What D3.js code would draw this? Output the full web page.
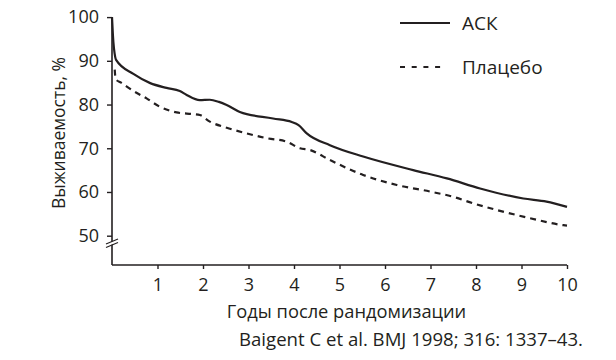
<!DOCTYPE html>
<html><head><meta charset="utf-8">
<script src="https://cdn.jsdelivr.net/npm/d3@7"></script>
<style>body{margin:0;background:#fff}svg{display:block}text{font-family:"Open Sans",sans-serif;fill:#231f20}</style>
</head><body>
<svg id="c" width="616" height="360"></svg>
<script>
const seriesNames = ["АСК", "Плацебо"];
const xTicks = [1,2,3,4,5,6,7,8,9,10];
const yTicks = [50,60,70,80,90,100];
const askYears = [0,0.02,0.07,0.09,0.47,0.84,1.2,1.49,1.64,1.93,2.15,2.35,2.52,2.81,3.54,3.95,4.1,4.28,4.79,5.52,6.62,7.36,8.09,9.04,9.55,10];
const askValues = [100,95.9,90.9,90.2,87.0,84.9,83.8,83.1,82.2,81.0,81.1,80.6,79.9,78.3,76.8,76.0,75.3,73.4,70.7,68.1,65.0,63.1,60.8,58.5,57.8,56.6];
const placeboYears = [0.06,0.08,0.2,0.47,0.76,1.05,1.42,1.79,1.93,2.15,2.52,2.96,3.4,3.84,4.13,4.35,4.79,5.52,6.26,6.99,7.5,7.94,8.45,9.19,9.92,10];
const placeboValues = [88,85.8,85.0,83.1,81.4,79.5,78.2,77.8,77.6,76.1,74.7,73.4,72.3,71.5,70.0,69.6,67.3,63.9,61.6,60.1,58.9,57.4,55.9,54.0,52.4,52.3];
const xLabel = "Годы после рандомизации";
const yLabel = "Выживаемость, %";
const source = "Baigent C et al. BMJ 1998; 316: 1337–43.";

const svg = d3.select("#c");
const x = d3.scaleLinear().domain([0,10]).range([112,567]);
const y = d3.scaleLinear().domain([50,100]).range([235.7,17.1]);
const axisY0 = 265;
const ink = "#231f20";

// x axis
const gx = svg.append("g").attr("transform",`translate(0,${axisY0})`)
  .call(d3.axisBottom(x).tickValues(xTicks).tickSize(4).tickSizeOuter(0).tickPadding(9).tickFormat(d3.format("d")));
gx.select(".domain").attr("stroke",ink).attr("stroke-width",1.6).attr("d",`M${x(0)},0H${x(10)}`);
gx.selectAll(".tick line").attr("stroke",ink).attr("stroke-width",1.4);
gx.selectAll(".tick text").attr("font-size",18).attr("fill",ink).attr("font-family","Open Sans");

// y axis
const gy = svg.append("g").attr("transform",`translate(${x(0)},0)`)
  .call(d3.axisLeft(y).tickValues(yTicks).tickSize(5).tickSizeOuter(0).tickPadding(8).tickFormat(d3.format("d")));
gy.select(".domain").attr("stroke",ink).attr("stroke-width",1.6).attr("d",`M0,${y(100)}V${axisY0}`);
gy.selectAll(".tick line").attr("stroke",ink).attr("stroke-width",1.4);
gy.selectAll(".tick text").attr("font-size",18).attr("fill",ink).attr("font-family","Open Sans");

// axis break
const bx = x(0), by = 243;
svg.append("path").attr("d",`M${bx-6},${by+1}L${bx+6},${by-4}L${bx+6},${by-1}L${bx-6},${by+4}Z`).attr("fill","#fff");
[0,3.5].forEach(o=>{
  svg.append("line").attr("x1",bx-6).attr("y1",by+1+o).attr("x2",bx+6).attr("y2",by-4+o).attr("stroke",ink).attr("stroke-width",1.2);
});

// lines
const line = d3.line().x(d=>x(d[0])).y(d=>y(d[1])).curve(d3.curveMonotoneX);
const askData = askYears.map((t,i)=>[t,askValues[i]]);
const plData = placeboYears.map((t,i)=>[t,placeboValues[i]]);
svg.append("path").datum(askData).attr("d",line).attr("fill","none").attr("stroke",ink).attr("stroke-width",2.2).attr("stroke-linejoin","round");
svg.append("path").datum(plData).attr("d",line).attr("fill","none").attr("stroke",ink).attr("stroke-width",2.2).attr("stroke-dasharray","6,5");

// legend
const leg = svg.append("g");
const legY = [23,67];
seriesNames.forEach((n,i)=>{
  leg.append("line").attr("x1",400).attr("x2",i===0?450:445).attr("y1",legY[i]).attr("y2",legY[i])
    .attr("stroke",ink).attr("stroke-width",2.2).attr("stroke-dasharray",i===0?null:"5,6.7");
  leg.append("text").attr("x",462).attr("y",legY[i]).attr("dy","0.35em").attr("font-size",19).text(n);
});

// labels
svg.append("text").attr("x",346.5).attr("y",318).attr("text-anchor","middle").attr("font-size",18.3).text(xLabel);
svg.append("text").attr("x",583).attr("y",346).attr("text-anchor","end").attr("font-size",18.6).text(source);
svg.append("text").attr("transform","translate(65,133) rotate(-90)").attr("text-anchor","middle").attr("font-size",17.5).text(yLabel);
</script>
</body></html>
